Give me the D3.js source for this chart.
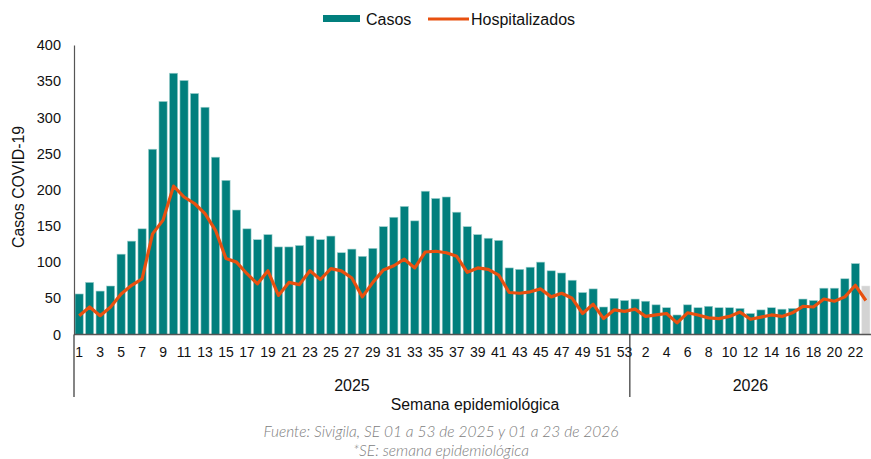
<!DOCTYPE html>
<html><head><meta charset="utf-8">
<script src="https://cdn.jsdelivr.net/npm/d3@7"></script>
<style>
body{margin:0;background:#fff;}
svg{display:block;}
</style></head>
<body>
<svg id="chart" width="871" height="459"></svg>
<script>
const years = ["2025", "2026"];
const weeks2025 = d3.range(1, 54);
const weeks2026 = d3.range(1, 24);
const casos2025 = [56,72,60,67,111,129,146,256,322,361,351,333,314,245,213,172,146,131,138,121,121,123,136,131,136,113,118,108,119,149,162,177,157,198,188,190,169,149,138,133,130,92,90,93,100,88,85,75,58,63,38,50,47];
const casos2026 = [49,46,41,37,27,41,37,39,37,37,36,29,34,37,35,36,49,47,64,64,77,98,67];
const hosp2025 = [26,38,26,38,56,68,77,139,158,205,190,181,167,144,105,100,84,70,88,54,72,69,88,76,91,88,78,52,72,89,95,104,92,114,115,113,108,86,92,90,82,58,57,59,63,52,57,50,29,42,22,34,32];
const hosp2026 = [35,25,27,29,16,30,27,23,22,25,31,21,24,27,25,30,39,38,49,46,52,68,47];
const yTicks = [0,50,100,150,200,250,300,350,400];
const incompleteWeeks = 1; // last week shown in gray

const data = [];
weeks2025.forEach((w,i)=>data.push({year:"2025", week:w, casos:casos2025[i], hosp:hosp2025[i]}));
weeks2026.forEach((w,i)=>data.push({year:"2026", week:w, casos:casos2026[i], hosp:hosp2026[i]}));
data.forEach((d,i)=>{d.key=d.year+"-"+d.week; d.idx=i; d.gray = i >= data.length-incompleteWeeks;});

const svg = d3.select("#chart");
const mLeft = 74, mRight = 871, mTop = 45, mBottom = 334.5;

const x = d3.scaleBand().domain(data.map(d=>d.key)).range([mLeft,mRight]).paddingInner(0.22).paddingOuter(0.1);
const y = d3.scaleLinear().domain([0,400]).range([mBottom, mTop]);

const teal = "#017f7d", orange = "#e8500f", gray="#d3d3d3";

// bars
svg.append("g").selectAll("rect").data(data).join("rect")
  .attr("x", d=>x(d.key)).attr("width", x.bandwidth())
  .attr("y", d=>y(d.casos)).attr("height", d=>y(0)-y(d.casos))
  .attr("fill", d=>d.gray?gray:teal)
  .attr("stroke", d=>d.gray?"#e6e6e6":"#9fd0cd").attr("stroke-width",0.6);

// line
const line = d3.line().x(d=>x(d.key)+x.bandwidth()/2).y(d=>y(d.hosp));
svg.append("path").datum(data).attr("d", line).attr("fill","none")
  .attr("stroke", orange).attr("stroke-width",3.2).attr("stroke-linejoin","round");

// y axis
const yAxis = d3.axisLeft(y).tickValues(yTicks).tickSize(0).tickPadding(13);
const gy = svg.append("g").attr("transform",`translate(${mLeft},0)`).call(yAxis);
gy.select(".domain").attr("stroke","#555").attr("stroke-width",1.2);
gy.selectAll("text").attr("font-family","Liberation Sans, Arial, sans-serif").attr("font-size",14.5).attr("fill","#111");

// x axis baseline
svg.append("line").attr("x1",mLeft).attr("x2",mRight).attr("y1",mBottom).attr("y2",mBottom).attr("stroke","#555").attr("stroke-width",1.4);

// x tick labels
const tickKeys = data.filter(d=> d.year==="2025" ? d.week%2===1 : (d.week%2===0 && d.week<=22)).map(d=>d.key);
const xAxis = d3.axisBottom(x).tickValues(tickKeys).tickSize(0).tickPadding(13).tickFormat(k=>k.split("-")[1]);
const gx = svg.append("g").attr("transform",`translate(0,${mBottom})`).call(xAxis);
gx.select(".domain").remove();
gx.selectAll("text").attr("font-family","Liberation Sans Narrow, Arial Narrow, sans-serif").attr("font-size",14).attr("fill","#111");

// year separators and labels
const sepX = [mLeft, x(data[53].key) - x.step()*x.paddingInner()/2];
sepX.forEach(sx=>svg.append("line").attr("x1",sx).attr("x2",sx).attr("y1",mBottom).attr("y2",397).attr("stroke","#333").attr("stroke-width",1.2));
const yearSpans = [[mLeft, sepX[1]],[sepX[1], mRight]];
years.forEach((yr,i)=>svg.append("text").attr("x",(yearSpans[i][0]+yearSpans[i][1])/2).attr("y",391)
  .attr("text-anchor","middle").attr("font-family","Liberation Sans Narrow, Arial Narrow, sans-serif").attr("font-size",16).attr("fill","#111").text(yr));

// axis titles
svg.append("text").attr("x",475).attr("y",410).attr("text-anchor","middle")
  .attr("font-family","Liberation Sans, Arial, sans-serif").attr("font-size",15.8).attr("fill","#111").text("Semana epidemiológica");
svg.append("text").attr("transform","translate(24,187) rotate(-90)").attr("text-anchor","middle")
  .attr("font-family","Liberation Sans, Arial, sans-serif").attr("font-size",15.8).attr("fill","#111").text("Casos COVID-19");

// source
svg.append("text").attr("x",441).attr("y",437).attr("text-anchor","middle")
  .attr("font-family","Lato, sans-serif").attr("font-weight",300).attr("font-style","italic").attr("font-size",15.5).attr("fill","#7d7d7d")
  .text("Fuente: Sivigila, SE 01 a 53 de 2025 y 01 a 23 de 2026");
svg.append("text").attr("x",441).attr("y",456).attr("text-anchor","middle")
  .attr("font-family","Lato, sans-serif").attr("font-weight",300).attr("font-style","italic").attr("font-size",15.5).attr("fill","#7d7d7d")
  .text("*SE: semana epidemiológica");

// legend
const lg = svg.append("g");
lg.append("rect").attr("x",323).attr("y",15).attr("width",37).attr("height",7).attr("fill",teal);
lg.append("text").attr("x",366).attr("y",24.5).attr("font-family","Liberation Sans, Arial, sans-serif").attr("font-size",16).attr("fill","#111").text("Casos");
lg.append("line").attr("x1",428).attr("x2",469).attr("y1",19).attr("y2",19).attr("stroke",orange).attr("stroke-width",3);
lg.append("text").attr("x",471).attr("y",24.5).attr("font-family","Liberation Sans, Arial, sans-serif").attr("font-size",16).attr("fill","#111").text("Hospitalizados");
</script>
</body></html>
